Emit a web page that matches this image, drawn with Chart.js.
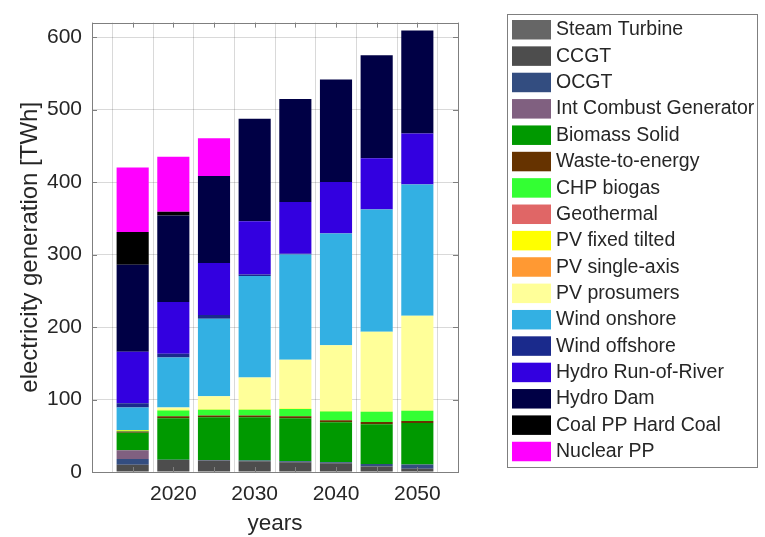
<!DOCTYPE html>
<html>
<head>
<meta charset="utf-8">
<script src="https://cdn.jsdelivr.net/npm/chart.js@4.4.1/dist/chart.umd.min.js"></script>
<style>
html,body{margin:0;padding:0;background:#fff}
#wrap{width:765px;height:537px}
</style>
</head>
<body>
<div id="wrap"><canvas id="gen" width="765" height="537"></canvas></div>
<script>
/* electricity generation mix per scenario year, TWh */
const years=[2015,2020,2025,2030,2035,2040,2045,2050];
const steamTurbine=[0,0,0,0,0,0,0,0];
const ccgt=[10,16.5,16,15,13.5,12,7.5,4.5];
const ocgt=[8,0.5,0.5,1,1.5,1.5,3.5,6];
const intCombust=[12,0,0,0,0,0,0,0];
const biomassSolid=[24,57,59,59.5,59,55,55,57];
const wasteToEnergy=[2,3,2.5,2.5,3,3,3,3];
const chpBiogas=[1,8,8,8,10,12,14,14];
const geothermal=[0,0,0,0,0,0,0,0];
const pvFixed=[1,1,0.5,0.5,0.5,0.5,0.5,0.5];
const pvSingleAxis=[0,0,0,0,0,0,0,0];
const pvProsumers=[0,3,18,44,67.5,91,110,130.5];
const windOnshore=[31,69,107,140,145,154,168.5,181];
const windOffshore=[6,5,5,2,1,0.5,0.5,0.5];
const hydroRoR=[71,71.5,72,73.5,71.5,70.5,70.5,70];
const hydroDam=[120,119.5,120,141.5,142,141.5,142,142];
const coalHard=[45,5,0,0,0,0,0,0];
const nuclear=[89,76,52,0,0,0,0,0];

const yTicks=[0,100,200,300,400,500,600];
const xTickLabels=[2020,2030,2040,2050];

const techs=[
  ['Steam Turbine',steamTurbine,'#666666'],
  ['CCGT',ccgt,'#4d4d4d'],
  ['OCGT',ocgt,'#334d80'],
  ['Int Combust Generator',intCombust,'#806080'],
  ['Biomass Solid',biomassSolid,'#009900'],
  ['Waste-to-energy',wasteToEnergy,'#663300'],
  ['CHP biogas',chpBiogas,'#33ff33'],
  ['Geothermal',geothermal,'#e06666'],
  ['PV fixed tilted',pvFixed,'#ffff00'],
  ['PV single-axis',pvSingleAxis,'#ff9933'],
  ['PV prosumers',pvProsumers,'#ffff99'],
  ['Wind onshore',windOnshore,'#33b0e3'],
  ['Wind offshore',windOffshore,'#1a2a8c'],
  ['Hydro Run-of-River',hydroRoR,'#3300e0'],
  ['Hydro Dam',hydroDam,'#000045'],
  ['Coal PP Hard Coal',coalHard,'#000000'],
  ['Nuclear PP',nuclear,'#ff00ff']
];

const FONT='"Liberation Sans", Arial, Helvetica, sans-serif';
const TXT='#262626';
const AXIS='#7f7f7f';
const GRID='rgba(0,0,0,0.15)';

// axes box with inward tick marks + boxed legend on the right
const matlabAxes={
  id:'matlabAxes',
  afterDraw(chart){
    const {ctx,chartArea:a,scales:{x,y}}=chart;
    ctx.save();
    ctx.strokeStyle=AXIS;ctx.lineWidth=1;
    ctx.strokeRect(Math.round(a.left)+0.5,Math.round(a.top)+0.5,Math.round(a.right-a.left),Math.round(a.bottom-a.top));
    ctx.beginPath();
    yTicks.forEach(v=>{
      const py=Math.round(y.getPixelForValue(v))+0.5;
      ctx.moveTo(a.left,py);ctx.lineTo(a.left+5,py);
      ctx.moveTo(a.right,py);ctx.lineTo(a.right-5,py);
    });
    x.ticks.forEach(t=>{
      const px=Math.round(x.getPixelForValue(t.value))+0.5;
      ctx.moveTo(px,a.bottom);ctx.lineTo(px,a.bottom-5);
      ctx.moveTo(px,a.top);ctx.lineTo(px,a.top+5);
    });
    ctx.stroke();

    const L=507,T=14,W=250,H=453;
    ctx.fillStyle='#fff';ctx.fillRect(L,T,W,H);
    ctx.strokeStyle=AXIS;ctx.strokeRect(L+0.5,T+0.5,W,H);
    ctx.beginPath();ctx.rect(L,T,W,H);ctx.clip();
    ctx.font='19.5px '+FONT;
    ctx.textBaseline='middle';ctx.textAlign='left';
    chart.data.datasets.forEach((ds,i)=>{
      const top=20+i*26.36;
      ctx.fillStyle=ds.backgroundColor;
      ctx.fillRect(512,top,39,19.5);
      ctx.fillStyle=TXT;
      ctx.fillText(ds.label,556,top+10);
    });
    ctx.restore();
  }
};

new Chart(document.getElementById('gen'),{
  type:'bar',
  data:{
    datasets:techs.map(([label,vals,col])=>({
      label,
      data:years.map((yr,i)=>({x:yr,y:vals[i]})),
      backgroundColor:col,
      borderWidth:0,
      barPercentage:0.79,
      categoryPercentage:1
    }))
  },
  options:{
    responsive:false,
    devicePixelRatio:1,
    animation:false,
    layout:{padding:{left:0,right:307,top:13,bottom:0}},
    plugins:{legend:{display:false},tooltip:{enabled:false}},
    scales:{
      x:{
        type:'linear',min:2010,max:2055,stacked:true,offset:false,z:1,
        grid:{color:GRID,drawTicks:false},
        border:{display:false},
        ticks:{stepSize:5,autoSkip:false,maxRotation:0,padding:10,color:TXT,font:{family:FONT,size:21},
          callback:v=>xTickLabels.includes(v)?String(v):''},
        title:{display:true,text:'years',color:TXT,font:{family:FONT,size:22.5},padding:{top:0,bottom:0}},
        afterFit(s){s.height=65;}
      },
      y:{
        min:0,max:620,stacked:true,z:1,
        grid:{color:GRID,drawTicks:false},
        border:{display:false},
        ticks:{stepSize:100,includeBounds:false,padding:10,color:TXT,font:{family:FONT,size:21},
          callback:v=>yTicks.includes(v)?String(v):''},
        title:{display:true,text:'electricity generation [TWh]',color:TXT,font:{family:FONT,size:24},padding:{top:16,bottom:0}},
        afterFit(s){s.width=92;}
      }
    }
  },
  plugins:[matlabAxes]
});
</script>
</body>
</html>
